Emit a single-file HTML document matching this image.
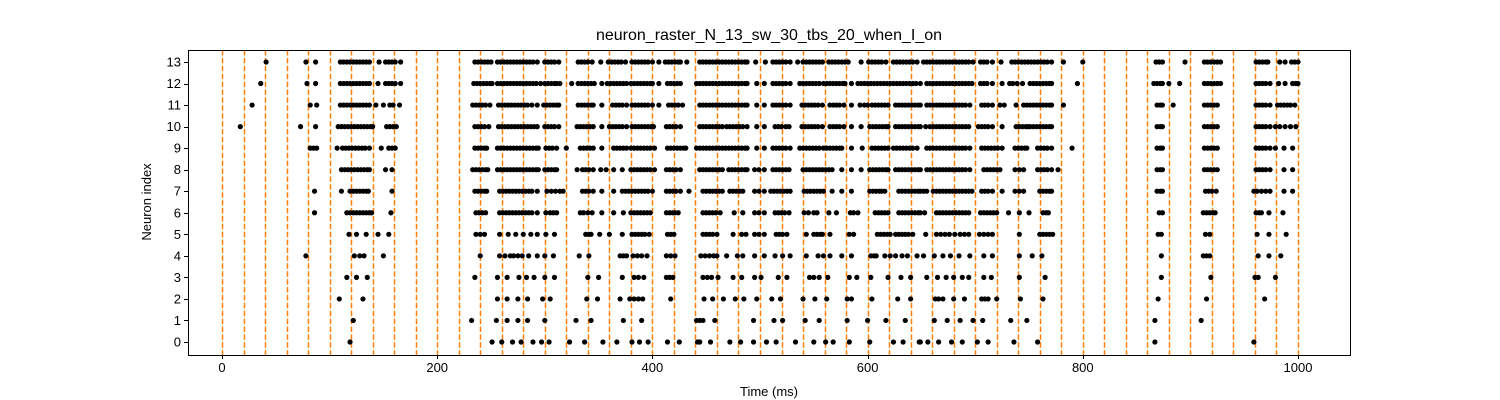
<!DOCTYPE html>
<html><head><meta charset="utf-8">
<style>
html,body{margin:0;padding:0;background:#fff;}
svg{display:block;font-family:"Liberation Sans","DejaVu Sans",sans-serif;}
</style></head>
<body>
<svg id="chart" width="1500" height="400" viewBox="0 0 1500 400" xmlns="http://www.w3.org/2000/svg">
<rect x="0" y="0" width="1500" height="400" fill="#fff"/>
<text x="769" y="40" text-anchor="middle" font-size="16" fill="#000">neuron_raster_N_13_sw_30_tbs_20_when_I_on</text>
<g id="vlines"></g>
<g id="dots"></g>
<g id="axes"></g>
<text x="769" y="396" text-anchor="middle" font-size="13">Time (ms)</text>
<text x="0" y="0" transform="translate(151,202) rotate(-90)" text-anchor="middle" font-size="13">Neuron index</text>
</svg>
<script>
const xTicks = [0,200,400,600,800,1000];
const yTicks = [0,1,2,3,4,5,6,7,8,9,10,11,12,13];
const stimTimes = [0,20,40,60,80,100,120,140,160,180,200,220,240,260,280,300,320,340,360,380,400,420,440,460,480,500,520,540,560,580,600,620,640,660,680,700,720,740,760,780,800,820,840,860,880,900,920,940,960,980,1000];
const spikes13 = [41,78,87,110,113,116,119,122,125,128,131,134,137,146,152,155,158,161,166,235,238,241,244,247,250,256,259,262,265,268,271,274,277,280,283,286,289,293,300,303,306,309,313,331,334,337,340,344,352,359,362,365,368,371,375,381,384,387,390,393,396,400,406,412,415,418,421,424,426,432,444,447,450,453,456,459,462,465,468,471,474,477,480,483,486,488,496,505,512,515,518,521,524,528,535,540,543,546,549,552,555,558,564,567,570,573,576,579,582,594,601,604,607,610,613,617,624,627,630,633,636,639,642,646,652,655,658,661,664,667,670,673,676,679,682,685,688,691,694,698,705,708,711,716,724,734,737,740,743,746,749,752,755,758,761,764,767,771,782,800,868,871,874,895,913,916,919,922,925,928,961,964,967,970,972,983,988,994,997,1000];
const spikes12 = [36,79,87,110,113,116,119,122,125,128,131,134,137,145,152,155,158,161,166,234,237,240,243,246,249,251,256,259,262,265,268,271,274,277,280,283,286,289,292,296,300,303,306,309,311,314,325,331,334,337,340,343,346,353,358,361,364,367,370,373,376,380,383,386,389,392,395,398,400,406,414,417,420,423,426,441,444,447,450,453,456,459,462,465,468,471,474,477,480,483,486,488,497,504,512,515,518,521,524,528,537,540,543,546,549,552,555,559,562,565,568,571,574,577,579,585,591,594,597,600,603,606,609,612,615,618,621,624,627,630,633,636,639,642,645,649,655,658,661,664,667,670,673,676,679,682,685,688,691,694,697,705,708,711,716,725,732,735,739,744,751,754,757,760,763,766,769,771,795,866,869,872,874,880,890,913,916,919,922,925,928,961,964,967,970,974,982,988,995,998,1000];
const spikes11 = [28,82,88,110,113,116,119,122,125,128,131,134,137,143,150,156,159,165,233,236,239,242,245,249,257,260,263,266,269,272,275,278,281,284,288,293,299,302,305,308,311,313,331,334,337,340,343,345,353,363,366,369,372,376,381,384,387,390,393,396,400,406,415,418,421,424,428,444,447,450,453,456,459,462,465,468,471,474,477,480,483,486,488,497,504,512,515,518,521,524,528,539,542,545,548,551,554,558,565,568,571,574,578,585,593,597,600,604,607,610,613,616,619,626,629,632,635,638,641,644,647,649,655,658,661,664,667,670,673,676,679,682,685,688,691,695,706,709,712,716,723,727,738,745,748,751,754,757,760,763,766,769,771,782,869,872,874,884,913,916,919,922,925,961,964,967,970,974,981,984,987,990,993,997];
const spikes10 = [17,73,87,108,111,114,117,120,123,126,129,132,135,138,140,153,156,159,162,235,238,241,244,248,257,260,263,266,269,272,275,278,281,284,287,290,293,300,303,306,309,313,330,333,336,339,342,345,353,360,363,366,369,372,376,381,384,387,390,393,396,399,401,413,416,419,422,426,444,447,450,453,456,459,462,465,469,472,475,478,481,484,488,497,504,514,517,520,524,527,539,542,545,548,551,554,558,565,568,571,574,578,585,594,602,605,608,611,614,617,619,626,629,632,635,638,641,644,647,649,654,658,661,664,667,670,673,676,679,682,685,688,691,694,703,706,709,712,716,725,738,741,744,747,749,751,754,757,760,763,766,769,771,869,872,874,913,916,919,922,925,961,964,967,970,974,979,983,988,993,998];
const spikes9 = [82,85,88,107,112,115,118,121,124,127,130,133,137,148,155,158,161,235,238,241,244,246,256,259,262,265,268,271,274,277,280,283,286,289,292,294,301,304,307,311,320,333,336,339,342,345,353,364,367,370,373,376,380,383,386,389,392,395,398,402,414,417,420,423,426,429,431,441,444,447,450,453,456,459,462,465,468,471,474,477,480,483,486,488,497,504,512,515,518,521,524,528,537,540,543,546,549,552,555,559,562,565,568,571,574,576,585,595,604,607,610,613,616,619,624,627,630,633,636,639,642,646,655,658,661,664,667,670,673,676,679,682,685,688,691,695,706,709,712,715,718,721,725,737,740,743,746,748,758,761,764,767,771,790,869,872,874,913,916,919,922,925,961,964,967,970,974,979,987,995];
const spikes8 = [111,114,117,120,123,126,129,132,135,137,152,158,233,236,239,242,245,247,256,259,262,265,268,271,274,277,280,283,286,289,292,294,300,303,306,309,311,330,335,338,341,345,352,357,364,372,380,383,386,389,392,395,398,402,413,416,419,422,426,444,447,450,453,456,459,462,465,471,474,477,480,483,486,488,495,499,504,512,515,518,521,524,527,540,543,546,549,552,555,558,561,564,567,576,585,594,602,605,608,611,614,617,619,626,629,632,635,638,641,644,647,649,655,658,661,664,667,670,673,676,679,682,685,688,691,695,708,711,714,717,720,723,737,741,745,758,761,764,767,771,777,869,872,874,913,916,919,922,925,961,964,967,970,974,987,995];
const spikes7 = [86,111,119,122,125,128,131,134,136,158,235,238,241,244,246,258,261,264,267,270,273,276,279,282,285,288,293,302,306,310,314,317,335,338,341,345,353,364,372,375,378,381,384,387,390,393,396,400,413,416,419,422,426,434,447,450,453,456,459,462,465,472,475,478,481,484,495,499,504,510,513,516,519,522,525,528,541,544,547,550,553,556,559,567,576,585,602,605,608,611,613,616,629,632,635,638,641,644,647,649,652,655,661,664,667,670,673,676,679,682,685,688,691,694,697,706,709,712,716,725,737,741,745,760,763,766,769,771,869,872,874,914,917,920,924,959,962,966,970,974,987,995];
const spikes6 = [86,116,119,122,125,128,131,134,137,139,157,236,239,242,245,258,261,264,267,270,273,276,279,282,285,288,293,301,305,308,311,333,336,340,344,353,364,373,380,383,386,389,392,395,398,413,416,419,421,424,447,450,453,456,459,463,476,484,495,499,504,514,517,520,523,527,541,545,550,553,564,571,584,587,591,607,610,613,616,619,629,632,635,638,641,644,647,649,653,664,667,670,673,676,679,682,685,688,691,694,705,708,711,714,717,720,731,741,750,763,766,768,871,874,912,915,918,921,923,961,964,966,973,986];
const spikes5 = [118,125,134,145,155,236,240,244,258,266,273,280,287,293,301,309,338,341,343,351,360,372,381,384,387,390,393,397,414,417,420,447,450,453,456,460,475,483,487,495,499,504,515,518,521,525,543,550,553,556,558,565,583,587,609,612,615,618,621,626,629,632,635,638,642,654,664,668,672,676,681,686,690,694,704,708,712,716,741,760,763,766,769,772,870,873,914,918,962,973,989];
const spikes4 = [78,123,128,132,150,240,258,263,268,271,275,279,285,293,300,308,332,341,370,373,376,382,386,390,395,413,417,421,445,449,453,457,460,469,479,484,495,504,514,521,528,543,554,559,565,576,585,603,606,608,616,621,626,632,637,646,652,662,670,677,685,695,708,716,741,753,762,873,912,915,918,963,973,984];
const spikes3 = [116,125,135,235,256,265,276,283,290,300,309,340,350,372,383,387,392,413,416,419,447,451,455,461,475,483,495,501,517,525,546,550,555,563,583,590,603,619,631,640,655,665,673,680,688,694,708,715,741,765,873,919,960,963,979];
const spikes2 = [109,131,256,265,275,284,298,305,339,349,370,379,383,387,391,417,448,456,466,477,485,497,511,519,540,551,562,581,585,604,628,640,663,666,670,680,690,706,709,712,720,742,763,870,915,969];
const spikes1 = [122,232,255,265,275,284,300,329,343,373,390,441,444,447,458,494,513,521,542,555,581,600,617,635,662,674,686,698,707,733,748,867,910];
const spikes0 = [119,251,260,270,278,289,297,304,323,337,354,367,381,388,396,414,425,442,444,454,472,482,494,506,515,533,550,561,568,583,602,624,633,648,649,656,666,678,688,702,712,736,758,867,959];
const neuronSpikes = [spikes0,spikes1,spikes2,spikes3,spikes4,spikes5,spikes6,spikes7,spikes8,spikes9,spikes10,spikes11,spikes12,spikes13];

const NS='http://www.w3.org/2000/svg';
const L=188,R=1350,T=50,B=355;
function xs(t){return 222+t*1.076;}
function ys(n){return 342-n*21.54;}
function mk(tag,attrs,parent){const e=document.createElementNS(NS,tag);for(const k in attrs)e.setAttribute(k,attrs[k]);parent.appendChild(e);return e;}

const vl=document.getElementById('vlines');
stimTimes.forEach(t=>{
  const px=Math.round(xs(t))+0.5;
  const l=mk('line',{x1:px,x2:px,y1:T,y2:B,stroke:'#ff7f0e','stroke-width':1.5,'stroke-dasharray':'5.5,2.4'},vl);
  
  
});
const dg=document.getElementById('dots');
neuronSpikes.forEach((arr,n)=>{
  arr.forEach(t=>{
    const c=mk('circle',{cx:xs(t),cy:ys(n),r:2.6,fill:'#000'},dg);
    
    
  });
});
const ax=document.getElementById('axes');
const frame=mk('rect',{x:L+0.5,y:T+0.5,width:R-L,height:B-T,fill:'none',stroke:'#000','stroke-width':1,'shape-rendering':'crispEdges'},ax);


xTicks.forEach(t=>{
  const px=Math.round(xs(t))+0.5;
  const tk=mk('line',{x1:px,x2:px,y1:B,y2:B+4,stroke:'#000','shape-rendering':'crispEdges'},ax);
  
  
  const tx=mk('text',{x:xs(t),y:B+17,'text-anchor':'middle','font-size':13},ax);
  tx.textContent=t;
  
  
});
yTicks.forEach(n=>{
  const py=Math.round(ys(n))+0.5;
  const tk=mk('line',{x1:L-4,x2:L,y1:py,y2:py,stroke:'#000','shape-rendering':'crispEdges'},ax);
  
  
  const tx=mk('text',{x:L-7,y:ys(n)+4.5,'text-anchor':'end','font-size':13},ax);
  tx.textContent=n;
  
  
});
</script>
</body></html>
